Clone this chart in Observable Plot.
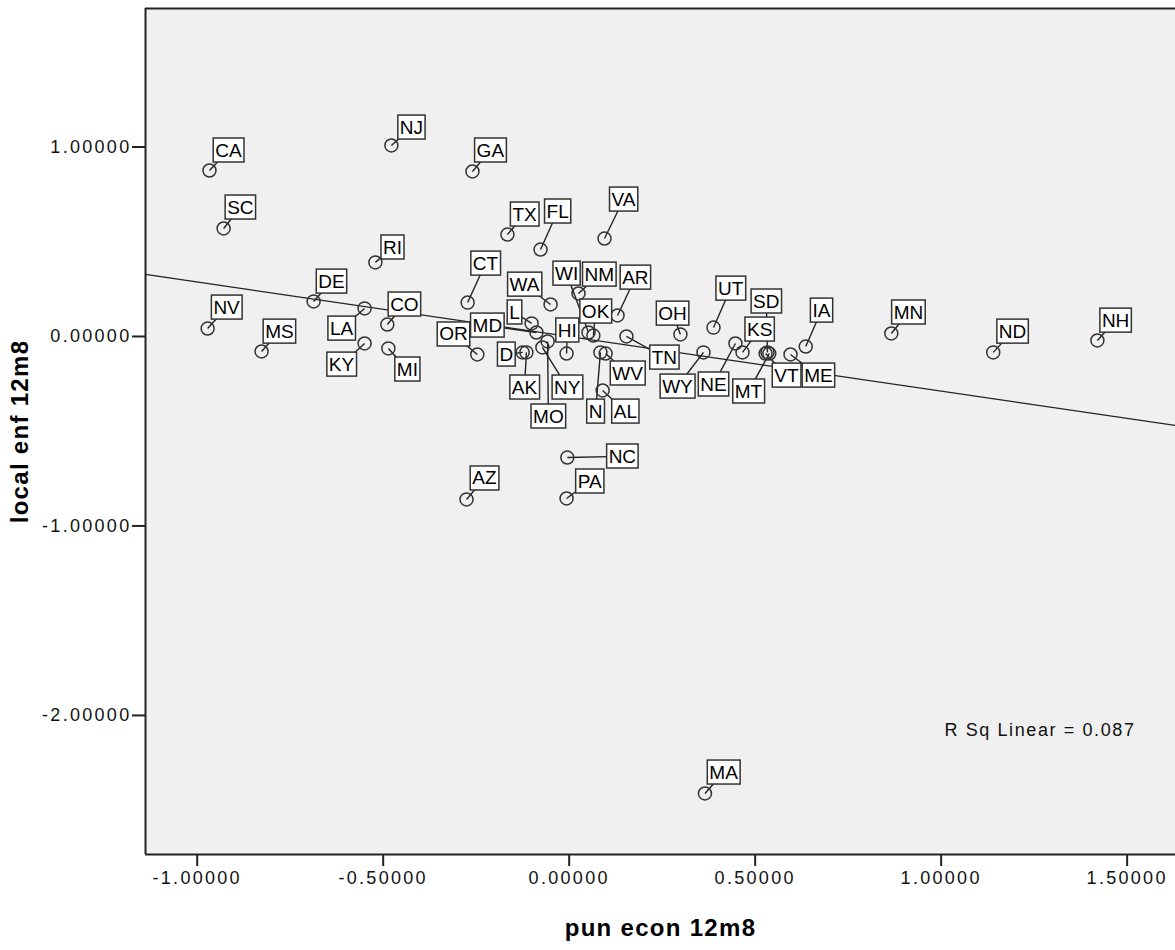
<!DOCTYPE html>
<html>
<head>
<meta charset="utf-8">
<script src="https://cdn.jsdelivr.net/npm/d3@7"></script>
<script src="https://cdn.jsdelivr.net/npm/@observablehq/plot@0.6"></script>
<style>
  body { margin: 0; background: #fff; }
  #chart g[aria-label="x-axis tick label"] text,
  #chart g[aria-label="y-axis tick label"] text { letter-spacing: 2.3px; }
</style>
</head>
<body>
<div id="chart"></div>
<script>
// ---- data ----
const states   = ["CA","SC","NJ","GA","TX","FL","VA","RI","CT","DE","NV","MS","LA","KY","CO","MI","OR","MD","IL","ID","AK","MO","NY","HI","WA","WI","NM","OK","AR","OH","UT","TN","IN","WV","AL","WY","NE","KS","SD","MT","VT","IA","ME","MN","ND","NH","NC","PA","AZ","MA"];
const punEcon  = [-0.967,-0.929,-0.478,-0.260,-0.166,-0.077,0.095,-0.521,-0.273,-0.687,-0.972,-0.827,-0.550,-0.550,-0.489,-0.486,-0.247,-0.088,-0.101,-0.125,-0.115,-0.058,-0.072,-0.007,-0.050,0.052,0.025,0.065,0.130,0.299,0.388,0.154,0.084,0.098,0.090,0.361,0.447,0.466,0.533,0.538,0.528,0.636,0.595,0.866,1.140,1.420,-0.005,-0.007,-0.276,0.365];
const localEnf = [0.876,0.570,1.008,0.871,0.538,0.459,0.517,0.391,0.179,0.185,0.042,-0.079,0.148,-0.037,0.063,-0.063,-0.095,0.021,0.069,-0.084,-0.084,-0.026,-0.058,-0.090,0.169,0.021,0.227,0.005,0.111,0.011,0.047,0.000,-0.084,-0.090,-0.285,-0.084,-0.037,-0.084,-0.084,-0.090,-0.090,-0.053,-0.095,0.016,-0.084,-0.021,-0.639,-0.855,-0.860,-2.412];
// where each state's label box sits (data units)
const labelX   = [-0.916,-0.884,-0.424,-0.212,-0.120,-0.031,0.146,-0.475,-0.225,-0.639,-0.921,-0.779,-0.612,-0.612,-0.443,-0.435,-0.311,-0.220,-0.147,-0.169,-0.120,-0.056,-0.005,-0.005,-0.120,-0.007,0.081,0.071,0.178,0.278,0.434,0.256,0.071,0.157,0.151,0.291,0.388,0.512,0.530,0.482,0.584,0.678,0.670,0.912,1.192,1.469,0.143,0.055,-0.228,0.415];
const labelY   = [0.982,0.681,1.103,0.982,0.644,0.660,0.723,0.470,0.385,0.290,0.153,0.026,0.042,-0.148,0.169,-0.174,0.011,0.058,0.127,-0.095,-0.269,-0.422,-0.269,0.032,0.274,0.332,0.327,0.132,0.311,0.121,0.253,-0.111,-0.396,-0.195,-0.396,-0.264,-0.253,0.037,0.185,-0.290,-0.206,0.137,-0.206,0.127,0.026,0.084,-0.633,-0.765,-0.749,-2.301];
// label text as printed (some are clipped in the original)
const shownLabel = {IL: "L", IN: "N", ID: "D"};
const xTicks = [-1.0, -0.5, 0.0, 0.5, 1.0, 1.5];
const yTicks = [-2.0, -1.0, 0.0, 1.0];
const xDomain = [-1.139, 1.63];
const yDomain = [-2.734, 1.731];
const xTitle = "pun econ 12m8";
const yTitle = "local enf 12m8";
const rsqText = "R Sq Linear = 0.087";

// ---- build table ----
const data = states.map((s, i) => ({
  state: s, label: shownLabel[s] ?? s,
  x: punEcon[i], y: localEnf[i], lx: labelX[i], ly: labelY[i]
}));

// least-squares fit, drawn across the whole frame
const mx = d3.mean(data, d => d.x), my = d3.mean(data, d => d.y);
const slope = d3.sum(data, d => (d.x - mx) * (d.y - my)) / d3.sum(data, d => (d.x - mx) ** 2);
const icpt = my - slope * mx;
const fit = xDomain.map(x => ({x, y: icpt + slope * x}));

const fmt = d => d.toFixed(5);

const plot = Plot.plot({
  width: 1175,
  height: 950,
  marginLeft: 145,
  marginRight: 0,
  marginTop: 8,
  marginBottom: 96,
  x: {domain: xDomain},
  y: {domain: yDomain},
  style: {fontFamily: "'Liberation Sans', Arial, sans-serif", fontSize: "18px", color: "#111", background: "#fff"},
  marks: [
    Plot.frame({fill: "#f0f0f0", stroke: null}),
    Plot.axisX({ticks: xTicks, tickFormat: fmt, tickSize: 12, tickPadding: 5, strokeWidth: 2, stroke: "#222", label: null, fontSize: 18}),
    Plot.axisY({ticks: yTicks, tickFormat: fmt, tickSize: 13, tickPadding: 1, strokeWidth: 2, stroke: "#222", label: null, fontSize: 18}),
    Plot.ruleY([yDomain[0]], {stroke: "#222", strokeWidth: 2}),
    Plot.ruleY([yDomain[1]], {stroke: "#222", strokeWidth: 2}),
    Plot.ruleX([xDomain[0]], {stroke: "#222", strokeWidth: 2}),
    Plot.line(fit, {x: "x", y: "y", stroke: "#222", strokeWidth: 1.3}),
    Plot.link(data, {x1: "x", y1: "y", x2: "lx", y2: "ly", stroke: "#222", strokeWidth: 1.4}),
    Plot.dot(data, {x: "x", y: "y", r: 6.5, stroke: "#333", strokeWidth: 1.5, fill: "none"}),
    Plot.text(data, {x: "lx", y: "ly", text: "label", fontSize: 19, fill: "#000"}),
    Plot.text([rsqText], {frameAnchor: "bottom-right", textAnchor: "end", dx: -40, dy: -119, fontSize: 18, fill: "#111"}),
    Plot.text([xTitle], {frameAnchor: "bottom", textAnchor: "middle", dy: 81, fontSize: 24, fontWeight: "bold", fill: "#000"}),
    Plot.text([yTitle], {frameAnchor: "left", textAnchor: "middle", dx: -125, rotate: -90, fontSize: 24, fontWeight: "bold", fill: "#000"})
  ]
});

document.getElementById("chart").append(plot);

// letter-spacing for the single-line notes (titles and R² note)
plot.querySelectorAll('g[aria-label="text"]').forEach(g => {
  const texts = g.querySelectorAll("text");
  if (texts.length === 1) {
    const t = texts[0];
    t.style.letterSpacing = t.textContent.startsWith("R Sq") ? "1.6px" : "1.3px";
  }
});

// white label boxes with a dark border, behind each state label
const ns = "http://www.w3.org/2000/svg";
plot.querySelectorAll('g[aria-label="text"]').forEach(g => {
  const texts = g.querySelectorAll("text");
  if (texts.length !== data.length) return;
  texts.forEach(t => {
    const b = t.getBBox();
    const r = document.createElementNS(ns, "rect");
    r.setAttribute("x", b.x - 2);
    r.setAttribute("y", b.y - 1.5);
    r.setAttribute("width", b.width + 4);
    r.setAttribute("height", b.height + 3);
    r.setAttribute("fill", "#fff");
    r.setAttribute("stroke", "#333");
    r.setAttribute("stroke-width", 1.5);
    const tr = t.getAttribute("transform");
    if (tr) r.setAttribute("transform", tr);
    t.parentNode.insertBefore(r, t);
  });
});
</script>
</body>
</html>
